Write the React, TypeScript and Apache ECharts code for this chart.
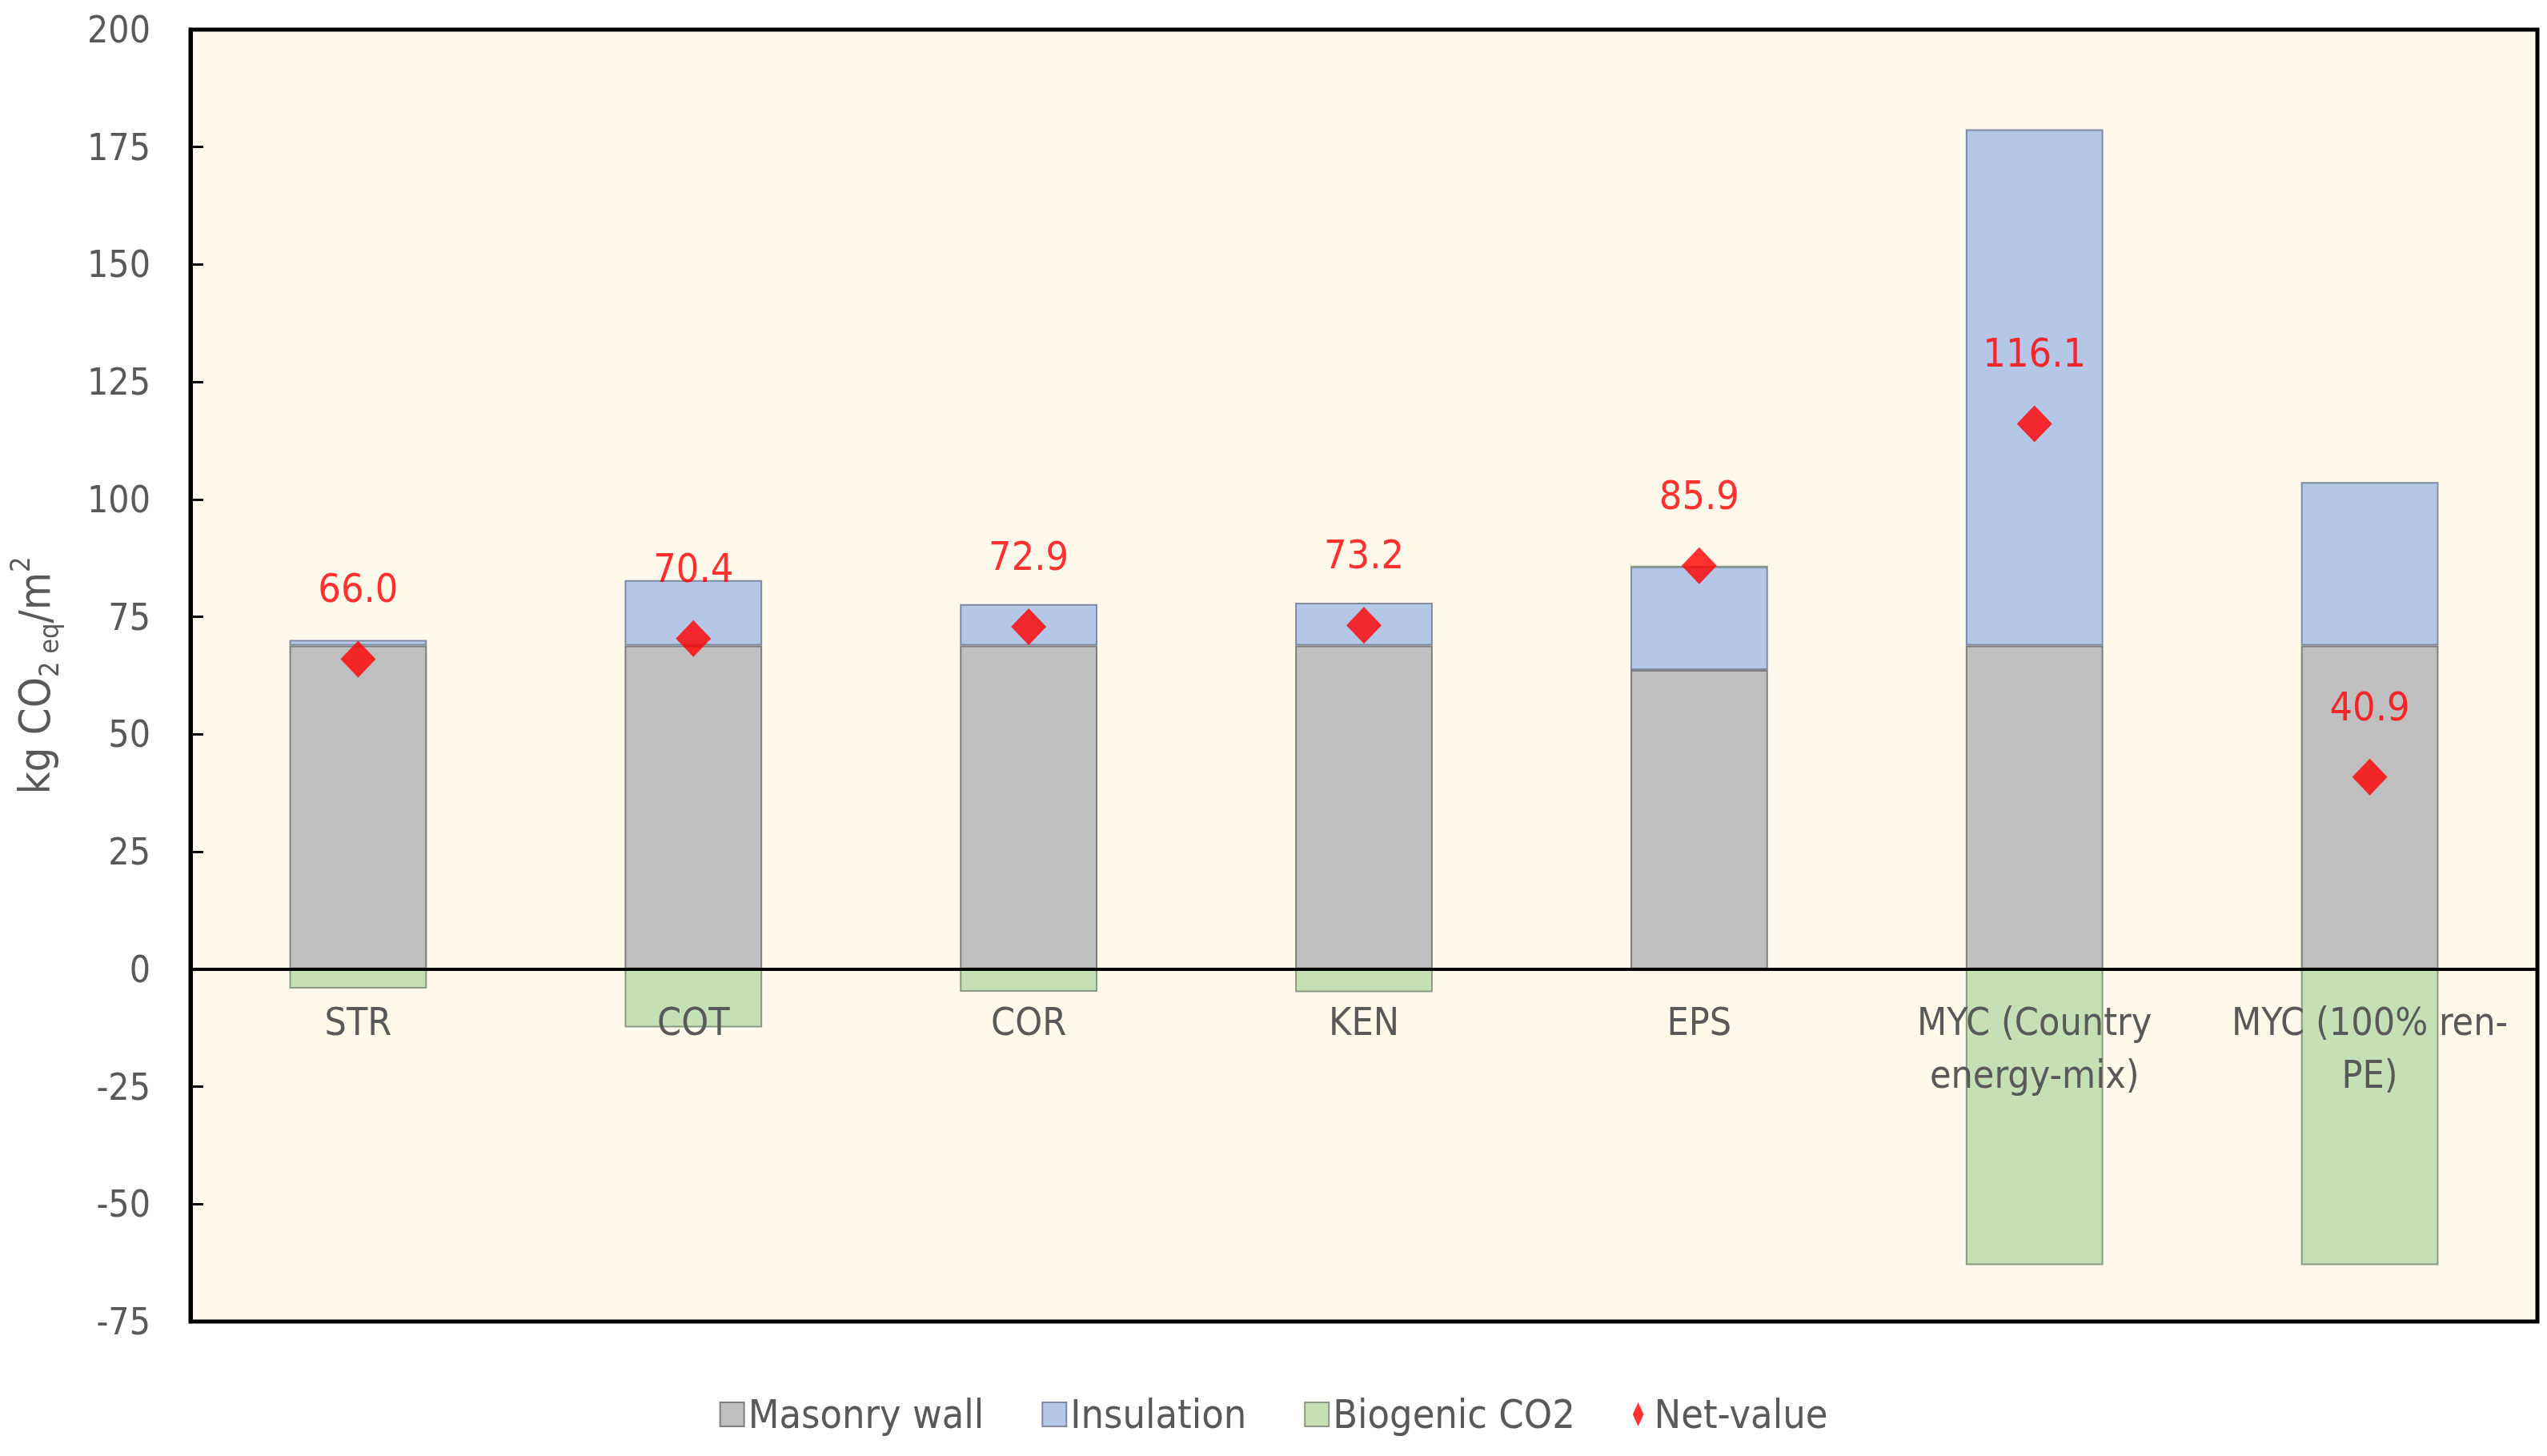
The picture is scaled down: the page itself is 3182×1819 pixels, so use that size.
import React, { useEffect, useRef } from "react";
import * as echarts from "echarts";

const categories = ["STR", "COT", "COR", "KEN", "EPS", "MYC (Country energy-mix)", "MYC (100% ren-PE)"];
const categoryLabels = ["STR", "COT", "COR", "KEN", "EPS", "MYC (Country\nenergy-mix)", "MYC (100% ren-\nPE)"];
const masonryWall = [68.9, 68.9, 68.9, 68.9, 63.7, 68.9, 68.9];
const insulation = [1.2, 13.9, 8.8, 9.1, 22.0, 109.9, 34.8];
const biogenicCO2 = [-4.1, -12.4, -4.8, -4.9, 0, -63.0, -63.0];
const netValue = [66.0, 70.4, 72.9, 73.2, 85.9, 116.1, 40.9];
const yTicks = { min: -75, max: 200, interval: 25 };

const FONT = "'DejaVu Sans Condensed', 'DejaVu Sans', sans-serif";
const TXT = "#595959";

const GRID_TOP = 37;
const GRID_BOTTOM = 168;
const CHART_H = 1819;

export default function App() {
  const ref = useRef<HTMLDivElement>(null);
  useEffect(() => {
    if (!ref.current) return;
    const chart = echarts.init(ref.current, null, { renderer: "svg" });
    // distance from plot bottom to the zero line, so that labels sit just below zero
    const plotH = CHART_H - GRID_TOP - GRID_BOTTOM;
    const zeroFromBottom = (plotH * (0 - yTicks.min)) / (yTicks.max - yTicks.min);
    chart.setOption({
      animation: false,
      textStyle: { fontFamily: FONT },
      grid: {
        left: 234,
        right: 12,
        top: GRID_TOP,
        bottom: GRID_BOTTOM,
        show: true,
        backgroundColor: "#FFF9EC",
        borderColor: "#000000",
        borderWidth: 5,
      },
      legend: {
        bottom: 22,
        left: "center",
        itemWidth: 30,
        itemHeight: 30,
        itemGap: 72,
        textStyle: { fontSize: 50, color: TXT, fontFamily: FONT },
        data: [
          { name: "Masonry wall", icon: "rect" },
          { name: "Insulation", icon: "rect" },
          { name: "Biogenic CO2", icon: "rect" },
          { name: "Net-value", icon: "path://M5,0 L10,11 L5,22 L0,11 Z" },
        ],
      },
      xAxis: {
        type: "category",
        data: categories,
        z: 10,
        axisLine: { onZero: true, lineStyle: { color: "#000000", width: 4 } },
        axisTick: { show: false },
        axisLabel: {
          fontSize: 48,
          color: TXT,
          fontFamily: FONT,
          margin: -(zeroFromBottom - 32),
          lineHeight: 66,
          interval: 0,
          verticalAlign: "top",
          formatter: (_v: string, i: number) => categoryLabels[i],
        },
      },
      yAxis: {
        type: "value",
        min: yTicks.min,
        max: yTicks.max,
        interval: yTicks.interval,
        splitLine: { show: false },
        axisLine: { show: true, lineStyle: { color: "#000000", width: 5 } },
        axisTick: { show: true, inside: true, length: 16, lineStyle: { color: "#000000", width: 3 } },
        axisLabel: { fontSize: 46, color: TXT, fontFamily: FONT, margin: 50 },
        name: "{a|kg CO}{s|2 eq}{a|/m}{p|2}",
        nameLocation: "middle",
        nameGap: 160,
        nameTextStyle: {
          color: TXT,
          fontFamily: FONT,
          rich: {
            a: { fontSize: 54, color: TXT, fontFamily: FONT, lineHeight: 70 },
            s: { fontSize: 34, color: TXT, fontFamily: FONT, verticalAlign: "bottom", lineHeight: 70 },
            p: { fontSize: 34, color: TXT, fontFamily: FONT, verticalAlign: "top", lineHeight: 70 },
          },
        },
      },
      series: [
        {
          name: "Masonry wall",
          type: "bar",
          stack: "total",
          barWidth: "41%",
          data: masonryWall,
          itemStyle: { color: "#BFBFBF", borderColor: "#7F7F7F", borderWidth: 2 },
        },
        {
          name: "Insulation",
          type: "bar",
          stack: "total",
          data: insulation,
          itemStyle: { color: "#B4C7E7", borderColor: "#7F8AA0", borderWidth: 2 },
        },
        {
          name: "Biogenic CO2",
          type: "bar",
          stack: "total",
          data: biogenicCO2,
          itemStyle: { color: "#C5E0B4", borderColor: "#8A9A82", borderWidth: 2 },
        },
        {
          name: "Net-value",
          type: "scatter",
          z: 20,
          data: netValue,
          symbol: "diamond",
          symbolSize: [44, 46],
          itemStyle: { color: "#FF0000" },
          label: {
            show: true,
            position: "top",
            distance: 40,
            color: "#FF0000",
            fontSize: 50,
            fontFamily: FONT,
            formatter: (p: any) => Number(p.value).toFixed(1),
          },
        },
      ],
    });
    return () => chart.dispose();
  }, []);
  return <div ref={ref} style={{ position: "fixed", left: 0, top: 0, width: "3182px", height: "1819px" }} />;
}
